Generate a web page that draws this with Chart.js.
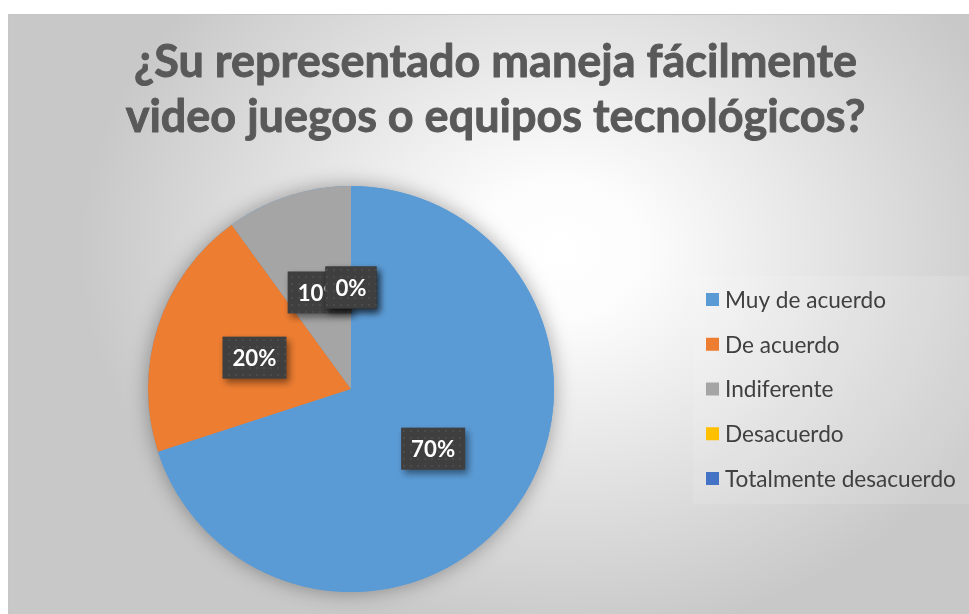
<!DOCTYPE html>
<html><head><meta charset="utf-8">
<script src="https://cdn.jsdelivr.net/npm/chart.js@4.4.1/dist/chart.umd.min.js"></script>
<style>
html,body{margin:0;padding:0;background:#fff;overflow:hidden;width:969px;height:614px}
#box{position:absolute;left:8px;top:14px;width:975px;height:610px;
 background: radial-gradient(ellipse 480px 390px at 552px 236px, #ffffff 0%, #fcfcfc 18%, #c8c8c8 100%);
 box-shadow: inset 1px 1px 0 #c6c6c6;}
canvas{position:absolute;left:0;top:0}
</style></head>
<body><div id="box"><canvas id="c" width="975" height="610"></canvas></div>
<script>
const titleLines = ['¿Su representado maneja fácilmente', 'video juegos o equipos tecnológicos?'];
const categories = ['Muy de acuerdo', 'De acuerdo', 'Indiferente', 'Desacuerdo', 'Totalmente desacuerdo'];
const values = [70, 20, 10, 0, 0];
const colors = ['#5b9bd5', '#ed7d31', '#a5a5a5', '#ffc000', '#4472c4'];

const FONT = 'Lato, "Open Sans", "DejaVu Sans", sans-serif';

function makePattern(ctx) {
  const p = document.createElement('canvas');
  p.width = 7; p.height = 7;
  const pc = p.getContext('2d');
  pc.fillStyle = '#3f3f3f'; pc.fillRect(0, 0, 7, 7);
  pc.fillStyle = '#4b4b4b'; pc.fillRect(3, 3, 2, 2);
  return ctx.createPattern(p, 'repeat');
}

const decor = {
  id: 'decor',
  beforeDraw(chart) {
    const ctx = chart.ctx;
    ctx.save();
    ctx.font = 'bold 40px ' + FONT;
    const w = ctx.measureText(titleLines[0]).width;
    const size = 40 * 723 / w;
    ctx.font = 'bold ' + size.toFixed(2) + 'px ' + FONT;
    ctx.fillStyle = '#595959';
    ctx.strokeStyle = '#595959';
    ctx.lineWidth = 0.9;
    ctx.lineJoin = 'round';
    ctx.textAlign = 'center';
    ctx.textBaseline = 'alphabetic';
    titleLines.forEach((t, i) => {
      ctx.fillText(t, 487.5, 63 + i * 55);
      ctx.strokeText(t, 487.5, 63 + i * 55);
    });
    ctx.fillStyle = 'rgba(255,255,255,0.12)';
    ctx.fillRect(685, 262, 290, 228);
    ctx.restore();
  },
  beforeDatasetsDraw(chart) {
    const ctx = chart.ctx;
    const a = chart.getDatasetMeta(0).data[0];
    ctx.save();
    ctx.shadowColor = 'rgba(0,0,0,0.35)';
    ctx.shadowBlur = 20;
    ctx.fillStyle = colors[0];
    ctx.beginPath();
    ctx.arc(a.x, a.y, a.outerRadius, 0, Math.PI * 2);
    ctx.fill();
    ctx.restore();
  },
  afterDatasetsDraw(chart) {
    const ctx = chart.ctx;
    const meta = chart.getDatasetMeta(0);
    const total = values.reduce((s, v) => s + v, 0);
    const pat = makePattern(ctx);
    ctx.save();
    ctx.font = 'bold 24px ' + FONT;
    const fsz = 24 * 44 / ctx.measureText('70%').width;
    ctx.restore();
    meta.data.forEach((arc, i) => {
      const p = arc.getProps(['x', 'y', 'startAngle', 'endAngle', 'outerRadius'], true);
      const mid = (p.startAngle + p.endAngle) / 2;
      const r = p.outerRadius * 0.5;
      const cx = p.x + Math.cos(mid) * r;
      const cy = p.y + Math.sin(mid) * r;
      const txt = Math.round(values[i] / total * 100) + '%';
      ctx.save();
      ctx.font = 'bold ' + fsz.toFixed(2) + 'px ' + FONT;
      const tw = ctx.measureText(txt).width;
      const bw = tw + 20, bh = 42;
      ctx.shadowColor = 'rgba(0,0,0,0.45)';
      ctx.shadowBlur = 7;
      ctx.shadowOffsetX = 3;
      ctx.shadowOffsetY = 4;
      ctx.fillStyle = pat;
      ctx.fillRect(cx - bw / 2, cy - bh / 2, bw, bh);
      ctx.shadowColor = 'transparent';
      ctx.fillStyle = '#ffffff';
      ctx.textAlign = 'center';
      ctx.textBaseline = 'middle';
      ctx.fillText(txt, cx, cy + 1);
      ctx.restore();
    });
  },
  afterDraw(chart) {
    const ctx = chart.ctx;
    ctx.save();
    ctx.font = '20px ' + FONT;
    const lw = ctx.measureText(categories[4]).width;
    const fs = 20 * 231 / lw;
    ctx.font = fs.toFixed(2) + 'px ' + FONT;
    ctx.textBaseline = 'middle';
    ctx.textAlign = 'left';
    categories.forEach((c, i) => {
      const y = 285.5 + i * 44.75;
      ctx.fillStyle = colors[i];
      ctx.fillRect(698, y - 6.5, 13, 13);
      ctx.fillStyle = '#404040';
      ctx.fillText(c, 717, y + 1);
    });
    ctx.restore();
  }
};

new Chart(document.getElementById('c'), {
  type: 'pie',
  data: {
    labels: categories,
    datasets: [{ data: values, backgroundColor: colors, borderWidth: 0 }]
  },
  options: {
    responsive: false,
    maintainAspectRatio: false,
    animation: false,
    devicePixelRatio: 1,
    layout: { padding: { left: 140, right: 429, top: 172, bottom: 32 } },
    plugins: { legend: { display: false }, tooltip: { enabled: false }, title: { display: false } }
  },
  plugins: [decor]
});
</script>
</body></html>
